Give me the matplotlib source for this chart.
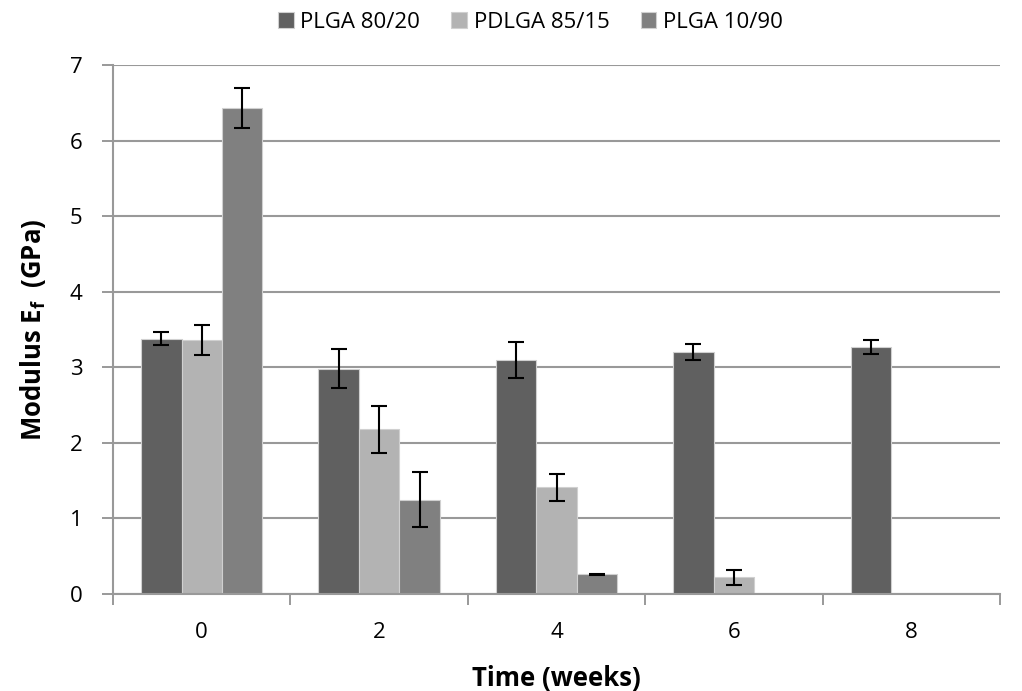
import numpy as np
import matplotlib.pyplot as plt

weeks = ['0', '2', '4', '6', '8']
series = ['PLGA 80/20', 'PDLGA 85/15', 'PLGA 10/90']
plga_8020 = [3.38, 2.98, 3.10, 3.20, 3.27]
plga_8020_err = [0.09, 0.26, 0.24, 0.11, 0.09]
pdlga_8515 = [3.36, 2.18, 1.41, 0.22, np.nan]
pdlga_8515_err = [0.20, 0.31, 0.18, 0.10, np.nan]
plga_1090 = [6.43, 1.25, 0.26, np.nan, np.nan]
plga_1090_err = [0.26, 0.36, 0.01, np.nan, np.nan]
colors = ['#606060', '#b3b3b3', '#808080']

plt.rcParams['font.family'] = ['Open Sans', 'DejaVu Sans']
plt.rcParams['mathtext.fontset'] = 'custom'
plt.rcParams['mathtext.bf'] = 'Open Sans:bold'
plt.rcParams['mathtext.rm'] = 'Open Sans'

fig = plt.figure(figsize=(10.22, 6.91), dpi=100)
ax = fig.add_axes([0.1106, 0.1404, 0.8679, 0.7656])

x = np.arange(len(weeks))
w = 0.228
vals = [plga_8020, pdlga_8515, plga_1090]
errs = [plga_8020_err, pdlga_8515_err, plga_1090_err]
for i in range(3):
    ax.bar(x + (i - 1) * w, vals[i], w, color=colors[i], edgecolor='#d0d0d0',
           linewidth=0.8, label=series[i], zorder=2)
    ax.errorbar(x + (i - 1) * w, vals[i], yerr=errs[i], fmt='none', ecolor='black',
                elinewidth=1.5, capsize=6, capthick=1.5, zorder=3)

ax.set_xlim(-0.5, 4.5)
ax.set_ylim(0, 7)
ax.set_yticks(range(8))
ax.set_xticks(x)
ax.set_xticklabels(weeks)
ax.set_xticks(np.arange(-0.5, 5.0, 1.0), minor=True)
ax.tick_params(axis='x', which='major', length=0, labelsize=16, pad=20)
ax.tick_params(axis='x', which='minor', length=8, color='#888888', width=1.2)
ax.tick_params(axis='y', length=8, color='#888888', width=1.2, labelsize=16, pad=14)
ax.grid(axis='y', color='#999999', linewidth=1.5, zorder=0)
ax.set_axisbelow(True)
for s in ['top', 'right']:
    ax.spines[s].set_visible(False)
for s in ['left', 'bottom']:
    ax.spines[s].set_color('#999999')
    ax.spines[s].set_linewidth(1.5)

ax.set_xlabel('Time (weeks)', fontsize=18.5, fontweight='bold', labelpad=16)
ax.set_ylabel(r'Modulus $\mathbf{E_f}$  (GPa)', fontsize=18.5, fontweight='bold', labelpad=16)

fig.legend(loc='upper center', bbox_to_anchor=(0.519, 1.012), ncol=3, frameon=False,
           fontsize=16, handlelength=0.7, handleheight=0.7, handletextpad=0.3,
           columnspacing=1.4)

plt.savefig('out.png', dpi=100)
